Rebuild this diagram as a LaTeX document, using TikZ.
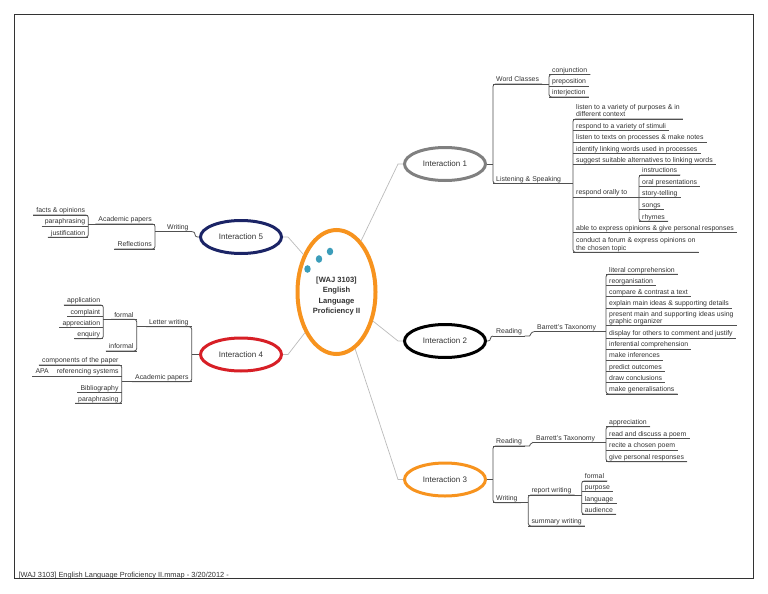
\documentclass[tikz,border=0pt]{standalone}
\usepackage{fontspec}
\setmainfont{Liberation Sans}
\usetikzlibrary{shapes.geometric,calc}
\definecolor{ulc}{HTML}{505050}
\definecolor{txt}{HTML}{333333}
\definecolor{cnc}{HTML}{BBBBBB}
\definecolor{mmorange}{HTML}{F7931E}
\definecolor{mmnavy}{HTML}{1B2466}
\definecolor{mmred}{HTML}{D71F26}
\definecolor{mmgray}{HTML}{808080}
\definecolor{mmteal}{HTML}{3C9DBA}
\newcommand\twol[2]{\begin{tabular}[b]{@{}l@{}}#1\\#2\end{tabular}}
\begin{document}
\begin{tikzpicture}[x=1pt,y=-1pt,
  tpbase/.style={inner xsep=3pt,inner ysep=0.5pt,text depth=1.5pt,font=\fontsize{6.9}{7.2}\selectfont,text=txt},
  tp/.style={tpbase,text height=5pt},
  R/.style={tp,anchor=south west},
  L/.style={tp,anchor=south east},
  R2/.style={tpbase,anchor=south west},
  ul/.style={draw=ulc,line width=0.8pt},
  br/.style={draw=ulc,line width=0.8pt,rounded corners=2.5pt},
  cn/.style={draw=cnc,line width=0.7pt},
  inter/.style={ellipse,draw,line width=3pt,minimum width=81pt,minimum height=33pt,inner sep=0pt,font=\fontsize{8}{9}\selectfont,text=txt},
  frame/.style={draw=black!80,line width=1.2pt}
]
\useasboundingbox (0,0) rectangle (768,594);
\draw[frame] (14.5,14.5) rectangle (753.5,578.3);
\node[anchor=base west,font=\fontsize{7.4}{8}\selectfont,text=txt] (foot) at (15,577) {[WAJ 3103] English Language Proficiency II.mmap - 3/20/2012 -};

% central topic
\node[ellipse,draw=mmorange,line width=4pt,minimum width=78pt,minimum height=124pt,inner sep=0pt] (main) at (336.5,292) {};
\node[align=center,font=\fontsize{7.6}{10.5}\selectfont\bfseries,text=txt] (mainlbl) at (336.5,296) {[WAJ 3103]\\English\\Language\\Proficiency II};
\fill[mmteal] (307.5,269) ellipse [x radius=3.2pt,y radius=3.8pt];
\fill[mmteal] (319,259) ellipse [x radius=3.2pt,y radius=3.8pt];
\fill[mmteal] (330,251.5) ellipse [x radius=3.2pt,y radius=3.8pt];

% interactions
\node[inter,draw=mmgray] (i1) at (445,164) {Interaction 1};
\node[inter,draw=black] (i2) at (445,341) {Interaction 2};
\node[inter,draw=mmorange] (i3) at (445,479.5) {Interaction 3};
\node[inter,draw=mmnavy] (i5) at (241,237) {Interaction 5};
\node[inter,draw=mmred] (i4) at (241,354.5) {Interaction 4};

\draw[cn] (main) -- ($(i1.west)+(-5,0)$) -- (i1.west);
\draw[cn] (main) -- ($(i2.west)+(-5,0)$) -- (i2.west);
\draw[cn] (main) -- ($(i3.west)+(-5,0)$) -- (i3.west);
\draw[cn] (main) -- ($(i5.east)+(5,0)$) -- (i5.east);
\draw[cn] (main) -- ($(i4.east)+(5,0)$) -- (i4.east);

% ---------- Interaction 1
\node[R] (wc) at (493,84) {Word Classes};
\node[R] (c1) at (549,74.5) {conjunction};
\node[R] (c2) at (549,86) {preposition};
\node[R] (c3) at (549,97) {interjection};
\node[R] (ls) at (493,183.5) {Listening \& Speaking};
\node[R2] (l1) at (573,119) {\twol{listen to a variety of purposes \& in}{different context}};
\node[R] (l2) at (573,130.5) {respond to a variety of stimuli};
\node[R] (l3) at (573,142) {listen to texts on processes \& make notes};
\node[R] (l4) at (573,153.3) {identify linking words used in processes};
\node[R] (l5) at (573,164.7) {suggest suitable alternatives to linking words};
\node[R] (l6) at (573,197) {respond orally to};
\node[R] (o1) at (639,175) {instructions};
\node[R] (o2) at (639,186.7) {oral presentations};
\node[R] (o3) at (639,197.7) {story-telling};
\node[R] (o4) at (639,209.7) {songs};
\node[R] (o5) at (639,221.3) {rhymes};
\node[R] (l7) at (573,232.5) {able to express opinions \& give personal responses};
\node[R2] (l8) at (573,252.3) {\twol{conduct a forum \& express opinions on}{the chosen topic}};

\draw[br] (i1.east) -- (i1.east -| wc.south west);
\draw[br] (wc.south east) -- (wc.south west) -- (ls.south west) -- (ls.south east);
\draw[br] (wc.south east) -- (wc.south east -| c1.south west);
\draw[br] (c1.south east) -- (c1.south west) -- (c3.south west) -- (c3.south east);
\draw[br] (ls.south east) -- (ls.south east -| l1.south west);
\draw[br] (l1.south east) -- (l1.south west) -- (l8.south west) -- (l8.south east);
\draw[br] (l6.south east) -- (l6.south east -| o1.south west);
\draw[br] (o1.south east) -- (o1.south west) -- (o5.south west) -- (o5.south east);

% ---------- Interaction 2
\node[R] (r2) at (493,336) {Reading};
\node[R] (bt2) at (534,331.7) {Barrett's Taxonomy};
\node[R] (b1) at (606,274.3) {literal comprehension};
\node[R] (b2) at (606,285.3) {reorganisation};
\node[R] (b3) at (606,296.7) {compare \& contrast a text};
\node[R] (b4) at (606,308) {explain main ideas \& supporting details};
\node[R2] (b5) at (606,325.7) {\twol{present main and supporting ideas using}{graphic organizer}};
\node[R] (b6) at (606,338) {display for others to comment and justify};
\node[R] (b7) at (606,349) {inferential comprehension};
\node[R] (b8) at (606,360) {make inferences};
\node[R] (b9) at (606,371.3) {predict outcomes};
\node[R] (b10) at (606,382.7) {draw conclusions};
\node[R] (b11) at (606,394) {make generalisations};

\draw[br] (i2.east) -- ++(3.5,0) |- (r2.south west);
\draw[br] (r2.south east) -- ++(2,0) to[out=0,in=180] (bt2.south west);
\draw[br] (bt2.south east) -- (bt2.south east -| b1.south west);
\draw[br] (b1.south east) -- (b1.south west) -- (b11.south west) -- (b11.south east);

% ---------- Interaction 3
\node[R] (r3) at (493,446) {Reading};
\node[R] (bt3) at (533,442.3) {Barrett's Taxonomy};
\node[R] (a1) at (606,426.7) {appreciation};
\node[R] (a2) at (606,438.7) {read and discuss a poem};
\node[R] (a3) at (606,450) {recite a chosen poem};
\node[R] (a4) at (606,461.7) {give personal responses};
\node[R] (w3) at (493,502.7) {Writing};
\node[R] (rw) at (528.3,495) {report writing};
\node[R] (f1) at (581.7,481) {formal};
\node[R] (f2) at (581.7,491.7) {purpose};
\node[R] (f3) at (581.7,503.3) {language};
\node[R] (f4) at (581.7,514.3) {audience};
\node[R] (sw) at (528.3,526) {summary writing};

\draw[br] (i3.east) -- (i3.east -| r3.south west);
\draw[br] (r3.south east) -- (r3.south west) -- (w3.south west) -- (w3.south east);
\draw[br] (r3.south east) -- ++(2,0) to[out=0,in=180] (bt3.south west);
\draw[br] (bt3.south east) -- (bt3.south east -| a1.south west);
\draw[br] (a1.south east) -- (a1.south west) -- (a4.south west) -- (a4.south east);
\draw[br] (w3.south east) -- (w3.south east -| rw.south west);
\draw[br] (rw.south east) -- (rw.south west) -- (sw.south west) -- (sw.south east);
\draw[br] (rw.south east) -- (rw.south east -| f1.south west);
\draw[br] (f1.south east) -- (f1.south west) -- (f4.south west) -- (f4.south east);

% ---------- Interaction 5
\node[L] (w5) at (191.7,231.7) {Writing};
\node[L] (ap5) at (155,224) {Academic papers};
\node[L] (rf) at (155,249) {Reflections};
\node[L] (fo) at (88.3,215) {facts \& opinions};
\node[L] (pp) at (88.3,226) {paraphrasing};
\node[L] (ju) at (88.3,237.3) {justification};

\draw[br] (i5.west) -- ++(-4,0) |- (w5.south east);
\draw[br] (w5.south west) -- (w5.south west -| ap5.south east);
\draw[br] (ap5.south west) -- (ap5.south east) -- (rf.south east) -- (rf.south west);
\draw[br] (ap5.south west) -- (ap5.south west -| fo.south east);
\draw[br] (fo.south west) -- (fo.south east) -- (ju.south east) -- (ju.south west);

% ---------- Interaction 4
\node[L] (lw) at (191.7,326.7) {Letter writing};
\node[L] (fm) at (136.7,319.3) {formal};
\node[L] (e1) at (103.3,305) {application};
\node[L] (e2) at (103.3,316.7) {complaint};
\node[L] (e3) at (103.3,327.7) {appreciation};
\node[L] (e4) at (103.3,338.7) {enquiry};
\node[L] (inf) at (136.7,351) {informal};
\node[L] (ap4) at (191.7,381.7) {Academic papers};
\node[L] (cp) at (121.7,365) {components of the paper};
\node[L] (rs) at (121.7,376) {referencing systems};
\node[L] (apa) at (52,376) {APA};
\node[L] (bi) at (121.7,392.7) {Bibliography};
\node[L] (pa) at (121.7,403.3) {paraphrasing};

\draw[br] (i4.west) -- (i4.west -| lw.south east);
\draw[br] (lw.south west) -- (lw.south east) -- (ap4.south east) -- (ap4.south west);
\draw[br] (lw.south west) -- (lw.south west -| fm.south east);
\draw[br] (fm.south west) -- (fm.south east) -- (inf.south east) -- (inf.south west);
\draw[br] (fm.south west) -- (fm.south west -| e1.south east);
\draw[br] (e1.south west) -- (e1.south east) -- (e4.south east) -- (e4.south west);
\draw[br] (ap4.south west) -- (ap4.south west -| cp.south east);
\draw[br] (cp.south west) -- (cp.south east) -- (pa.south east) -- (pa.south west);
\draw[br] (rs.south west) -- (apa.south east);

% underlines
\foreach \n in {wc,c1,c2,c3,ls,l1,l2,l3,l4,l5,l6,o1,o2,o3,o4,o5,l7,l8,
  r2,bt2,b1,b2,b3,b4,b5,b6,b7,b8,b9,b10,b11,
  r3,bt3,a1,a2,a3,a4,w3,rw,f1,f2,f3,f4,sw,
  w5,ap5,rf,fo,pp,ju,
  lw,fm,e1,e2,e3,e4,inf,ap4,cp,rs,apa,bi,pa}
  \draw[ul] (\n.south west) -- (\n.south east);
\end{tikzpicture}
\end{document}
